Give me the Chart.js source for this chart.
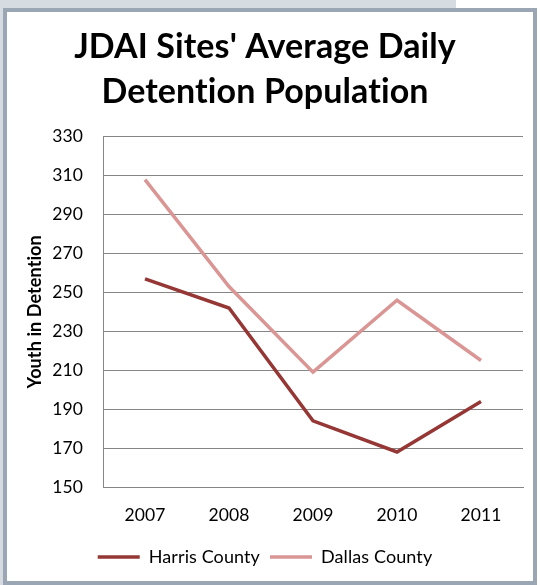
<!DOCTYPE html>
<html>
<head>
<meta charset="utf-8">
<script src="https://cdn.jsdelivr.net/npm/chart.js@4"></script>
<style>
    body { margin: 0; width: 540px; height: 585px; overflow: hidden; position: relative; background: #fff; }
    .strip-top { position: absolute; left: 0; top: 0; width: 456px; height: 9px; background: #d6dbe2; }
    .strip-left { position: absolute; left: 0; top: 0; width: 3px; height: 585px; background: #d6dbe2; }
    .frame { position: absolute; left: 3px; top: 8px; width: 534px; height: 577px; box-sizing: border-box;
             border: 4px solid #9ba6b5; background: #fff; }
    #chart { position: absolute; left: 0; top: 0; }
</style>
</head>
<body>
<div class="strip-top"></div>
<div class="strip-left"></div>
<div class="frame">
    <canvas id="chart" width="526" height="568"></canvas>
</div>
<script>
// Chart data
const years = ['2007', '2008', '2009', '2010', '2011'];
const harrisCounty = [257, 242, 184, 168, 194];
const dallasCounty = [308, 253, 209, 246, 215];
const titleLines = ["JDAI Sites' Average Daily", 'Detention Population'];
const yAxisTitle = 'Youth in Detention';

const FONT = 'Lato, Calibri, sans-serif';

// Lato joins "ti" into a ligature; a tiny letter spacing turns that off
const noLigatures = {
    id: 'noLigatures',
    beforeLayout: (chart) => { chart.ctx.letterSpacing = '0.1px'; },
    beforeDraw: (chart) => { chart.ctx.letterSpacing = '0.1px'; }
};

new Chart(document.getElementById('chart'), {
    type: 'line',
    data: {
        labels: years,
        datasets: [{
            label: 'Harris County',
            data: harrisCounty,
            borderColor: '#953735',
            backgroundColor: '#953735',
            borderWidth: 3.5,
            pointRadius: 0,
            pointStyle: 'line',
            tension: 0
        }, {
            label: 'Dallas County',
            data: dallasCounty,
            borderColor: '#d99694',
            backgroundColor: '#d99694',
            borderWidth: 3.5,
            pointRadius: 0,
            pointStyle: 'line',
            tension: 0
        }]
    },
    options: {
        responsive: false,
        animation: false,
        layout: { padding: { left: 0, right: 10, top: 0, bottom: 4 } },
        plugins: {
            title: {
                display: true,
                text: titleLines,
                color: '#000',
                font: { family: FONT, size: 34, weight: 'bold', lineHeight: 1.32 },
                padding: { top: 13, bottom: 22 }
            },
            legend: {
                position: 'bottom',
                labels: {
                    usePointStyle: true,
                    pointStyle: 'line',
                    pointStyleWidth: 42,
                    color: '#000',
                    padding: 10,
                    font: { family: FONT, size: 18 }
                }
            },
            tooltip: { enabled: false }
        },
        scales: {
            x: {
                offset: true,
                grid: { display: false, drawTicks: false },
                border: { display: true, color: '#868686', width: 1 },
                ticks: { color: '#000', padding: 18, font: { family: FONT, size: 17.5 } },
                afterFit: (scale) => { scale.height = 51; }
            },
            y: {
                min: 150,
                max: 330,
                grid: { color: '#868686', lineWidth: 1, drawTicks: false },
                border: { display: true, color: '#868686', width: 1 },
                ticks: { stepSize: 20, color: '#000', padding: 20, font: { family: FONT, size: 17.5 } },
                title: {
                    display: true,
                    text: yAxisTitle,
                    color: '#000',
                    font: { family: FONT, size: 18, weight: 'bold', lineHeight: 1.2 },
                    padding: { top: 17, bottom: 0 }
                },
                afterFit: (scale) => { scale.width = 96; }
            }
        }
    },
    plugins: [noLigatures]
});
</script>
</body>
</html>
